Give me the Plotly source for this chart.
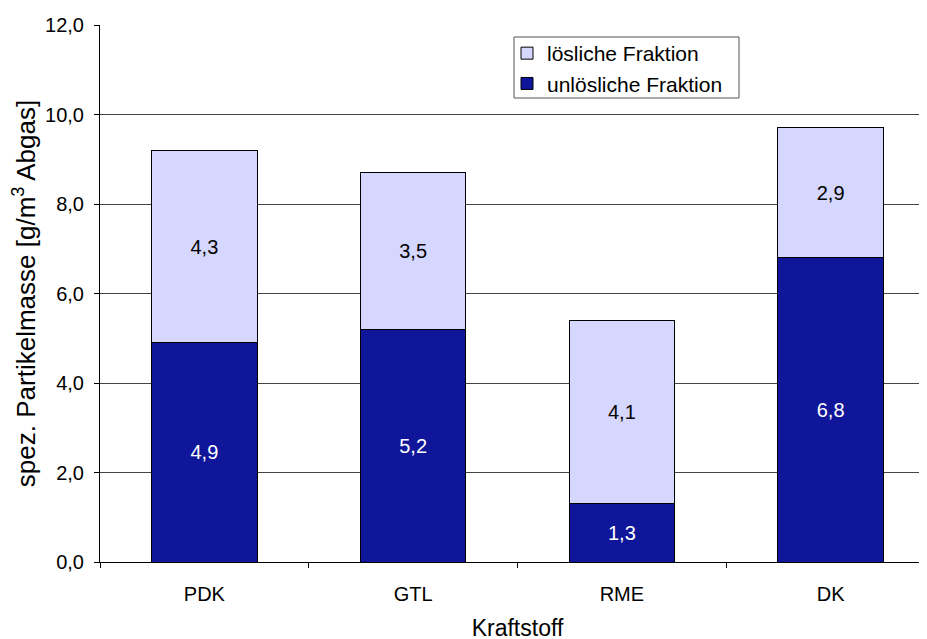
import plotly.graph_objects as go

categories = ["PDK", "GTL", "RME", "DK"]
unloesliche = [4.9, 5.2, 1.3, 6.8]
loesliche = [4.3, 3.5, 4.1, 2.9]
y_ticks = [0, 2, 4, 6, 8, 10, 12]

FONT = "Liberation Sans, Arial, sans-serif"
W, H = 927, 639
OFF = 8  # page body margin
ML, MR, MT, MB = 92, 0, 17, 85
PW, PH = W - ML - MR, H - MT - MB

def px_x(x):  # screen px -> paper
    return (x - OFF - ML) / PW

def px_y(y):
    return (H - MB - (y - OFF)) / PH

fig = go.Figure()
fig.add_trace(go.Bar(
    x=categories, y=unloesliche, name="unlösliche Fraktion",
    marker=dict(color="#10169A", line=dict(color="#000000", width=1)),
    texttemplate="%{y:.1f}", textposition="inside", insidetextanchor="middle",
    textfont=dict(color="white", size=20, family=FONT),
    width=0.505,
))
fig.add_trace(go.Bar(
    x=categories, y=loesliche, name="lösliche Fraktion",
    marker=dict(color="#D5D7FF", line=dict(color="#000000", width=1)),
    texttemplate="%{y:.1f}", textposition="inside", insidetextanchor="middle",
    textfont=dict(color="black", size=20, family=FONT),
    width=0.505,
))

# legend frame
fig.add_shape(type="rect", xref="paper", yref="paper",
              x0=px_x(514), x1=px_x(739), y0=px_y(98), y1=px_y(37),
              line=dict(color="#555555", width=1), fillcolor="white", layer="above")

fig.update_layout(
    width=W, height=H,
    barmode="stack",
    separators=", ",
    plot_bgcolor="white", paper_bgcolor="white",
    margin=dict(l=ML, r=MR, t=MT, b=MB),
    font=dict(family=FONT, size=20, color="black"),
    uniformtext=dict(mode=False),
    legend=dict(
        x=px_x(507), y=px_y(33), xref="paper", yref="paper",
        xanchor="left", yanchor="top",
        borderwidth=0, bgcolor="rgba(0,0,0,0)",
        traceorder="reversed",
        font=dict(size=21, family=FONT),
        itemwidth=30,
        tracegroupgap=0,
    ),
    xaxis=dict(
        range=[-0.5, 3.5],
        showline=True, linecolor="black", linewidth=1,
        ticks="outside", tickson="boundaries", ticklen=5, tickcolor="black",
        ticklabelstandoff=14,
        title=dict(text="Kraftstoff", font=dict(size=23), standoff=15),
        tickfont=dict(size=20),
    ),
    yaxis=dict(
        range=[0, 12], tickvals=y_ticks, tickformat=".1f",
        showline=True, linecolor="black", linewidth=1,
        ticks="outside", ticklen=5, tickcolor="black",
        ticklabelstandoff=6,
        showgrid=True, gridcolor="#444444", gridwidth=1,
        zeroline=False,
        title=dict(text="spez. Partikelmasse [g/m<sup>3</sup> Abgas]", font=dict(size=26), standoff=2),
        tickfont=dict(size=20),
    ),
)

fig.write_html("out.html")
